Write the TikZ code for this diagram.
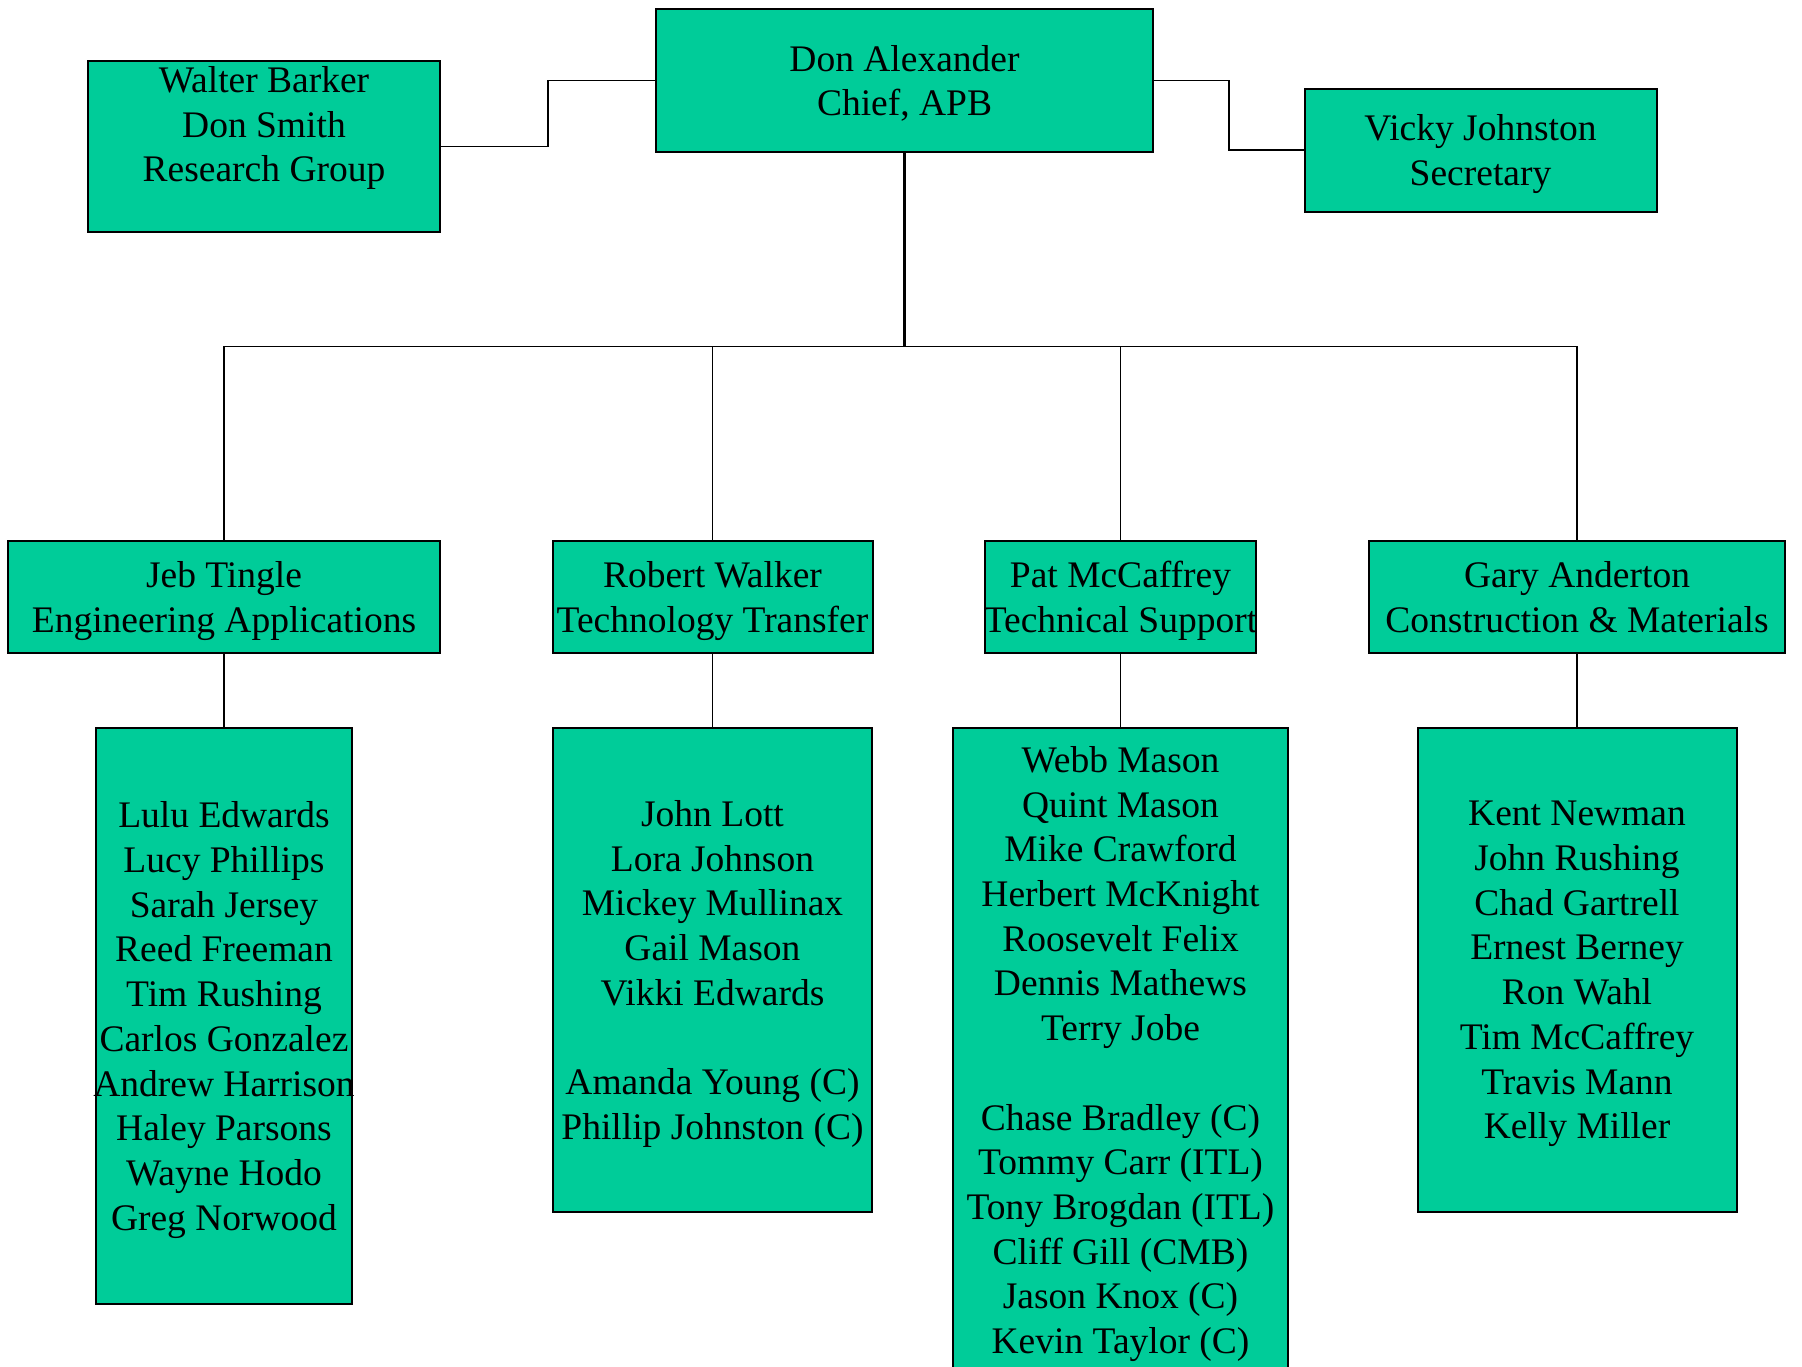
\documentclass[tikz,border=0pt]{standalone}
\usepackage{fontspec}
\setmainfont{Liberation Serif}
\usetikzlibrary{calc}

\begin{document}
\begin{tikzpicture}[
        x=1pt, y=-1pt,
        box/.style={draw=black, fill=apbgreen, line width=2pt, inner sep=0pt, align=center,
            font=\fontsize{37.5}{44.7}\selectfont, text depth=-5pt},
        edge/.style={line width=1.6pt, draw=black},
        trunk/.style={line width=2.6pt, draw=black}
    ]

        \definecolor{apbgreen}{RGB}{0, 204, 153}

        \useasboundingbox (0,0) rectangle (1802,1366);

        \node[box, minimum width=497pt, minimum height=143pt] (don) at (904.5, 80.5) {Don Alexander\\Chief, APB};
        \node[box, minimum width=352pt, minimum height=171pt] (walter) at (264, 146.5) {Walter Barker\\Don Smith\\Research Group\\ \mbox{}};
        \node[box, minimum width=352pt, minimum height=123pt] (vicky) at (1480.5, 150) {Vicky Johnston\\Secretary};

        \node[box, minimum width=432pt, minimum height=112pt] (jeb) at (224, 597) {Jeb Tingle\\Engineering Applications};
        \node[box, minimum width=320pt, minimum height=112pt] (robert) at (712.5, 597) {Robert Walker\\Technology Transfer};
        \node[box, minimum width=271pt, minimum height=112pt, inner xsep=-1pt] (pat) at (1120.5, 597) {Pat McCaffrey\\Technical Support};
        \node[box, minimum width=416pt, minimum height=112pt] (gary) at (1577, 597) {Gary Anderton\\Construction \& Materials};

        \node[box, minimum width=255.5pt, minimum height=575.5pt, inner xsep=-2.5pt] (jebteam) at (224, 1016) {
            Lulu Edwards\\Lucy Phillips\\Sarah Jersey\\Reed Freeman\\Tim Rushing\\
            Carlos Gonzalez\\Andrew Harrison\\Haley Parsons\\Wayne Hodo\\Greg Norwood};
        \node[box, minimum width=319pt, minimum height=483.5pt] (robertteam) at (712.5, 970) {
            John Lott\\Lora Johnson\\Mickey Mullinax\\Gail Mason\\Vikki Edwards\\ \mbox{}\\
            Amanda Young (C)\\Phillip Johnston (C)};
        \node[box, minimum width=335pt, minimum height=643.5pt] (patteam) at (1120.5, 1050) {
            Webb Mason\\Quint Mason\\Mike Crawford\\Herbert McKnight\\Roosevelt Felix\\
            Dennis Mathews\\Terry Jobe\\ \mbox{}\\Chase Bradley (C)\\Tommy Carr (ITL)\\
            Tony Brogdan (ITL)\\Cliff Gill (CMB)\\Jason Knox (C)\\Kevin Taylor (C)};
        \node[box, minimum width=319pt, minimum height=483.5pt] (garyteam) at (1577, 970) {
            Kent Newman\\John Rushing\\Chad Gartrell\\Ernest Berney\\Ron Wahl\\
            Tim McCaffrey\\Travis Mann\\Kelly Miller};

        \draw[edge] (walter.east) -| ($(walter.east)!.5!(don.west)$) |- (don.west);
        \draw[edge] (don.east) -| ($(don.east)!.5!(vicky.west)$) |- (vicky.west);

        \coordinate (bus) at (904.5, 346.5);
        \draw[trunk] (don.south) -- (bus);
        \draw[edge] (jeb.north) |- (bus) -| (gary.north);
        \draw[edge] (robert.north) -- (robert.north |- bus);
        \draw[edge] (pat.north) -- (pat.north |- bus);

        \draw[edge] (jeb.south) -- (jebteam.north);
        \draw[edge] (robert.south) -- (robertteam.north);
        \draw[edge] (pat.south) -- (patteam.north);
        \draw[edge] (gary.south) -- (garyteam.north);
    \end{tikzpicture}
\end{document}
